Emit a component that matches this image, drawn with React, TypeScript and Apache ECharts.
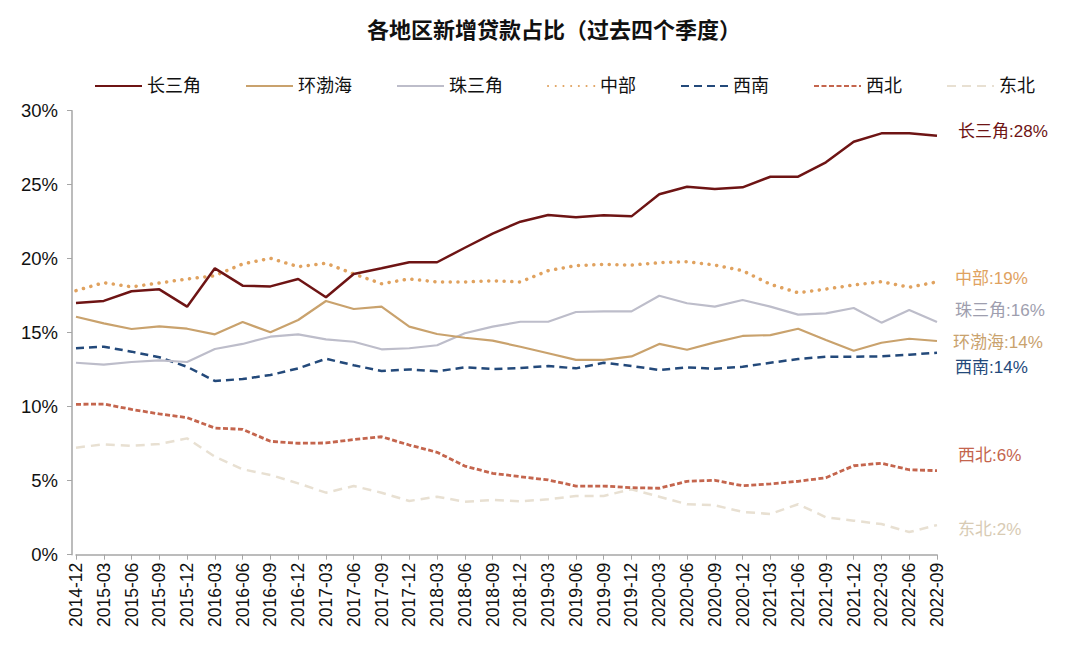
import React, { useEffect, useRef } from "react";
import * as echarts from "echarts";

const categories = [
  "2014-12", "2015-03", "2015-06", "2015-09", "2015-12", "2016-03", "2016-06", "2016-09",
  "2016-12", "2017-03", "2017-06", "2017-09", "2017-12", "2018-03", "2018-06", "2018-09",
  "2018-12", "2019-03", "2019-06", "2019-09", "2019-12", "2020-03", "2020-06", "2020-09",
  "2020-12", "2021-03", "2021-06", "2021-09", "2021-12", "2022-03", "2022-06", "2022-09",
];

const yrd = [17.0, 17.15, 17.8, 17.93, 16.76, 19.35, 18.18, 18.13, 18.63, 17.39, 18.97, 19.35, 19.76, 19.76, 20.74, 21.7,
  22.5, 22.95, 22.8, 22.93, 22.86, 24.35, 24.86, 24.71, 24.82, 25.54, 25.54, 26.51, 27.9, 28.47, 28.47, 28.31];
const bohai = [16.08, 15.63, 15.25, 15.43, 15.27, 14.89, 15.72, 15.03, 15.86, 17.14, 16.6, 16.76, 15.41, 14.91, 14.66, 14.46,
  14.05, 13.61, 13.16, 13.16, 13.4, 14.24, 13.85, 14.35, 14.78, 14.84, 15.27, 14.51, 13.78, 14.32, 14.59, 14.44];
const prd = [12.97, 12.84, 13.02, 13.13, 13.02, 13.9, 14.24, 14.73, 14.89, 14.55, 14.39, 13.88, 13.95, 14.15, 14.96, 15.41,
  15.74, 15.74, 16.4, 16.44, 16.44, 17.5, 16.99, 16.76, 17.21, 16.76, 16.22, 16.31, 16.67, 15.68, 16.53, 15.72];
const central = [17.84, 18.38, 18.1, 18.36, 18.63, 18.85, 19.64, 20.03, 19.46, 19.69, 18.97, 18.31, 18.63, 18.43, 18.43, 18.51,
  18.43, 19.19, 19.53, 19.62, 19.57, 19.73, 19.8, 19.57, 19.19, 18.27, 17.7, 17.95, 18.22, 18.45, 18.07, 18.43];
const southwest = [13.95, 14.05, 13.72, 13.34, 12.7, 11.74, 11.87, 12.14, 12.59, 13.24, 12.8, 12.41, 12.52, 12.39, 12.66, 12.55,
  12.61, 12.75, 12.59, 12.97, 12.75, 12.48, 12.66, 12.57, 12.7, 12.97, 13.22, 13.38, 13.38, 13.4, 13.51, 13.65];
const northwest = [10.16, 10.18, 9.82, 9.51, 9.26, 8.56, 8.47, 7.66, 7.53, 7.55, 7.78, 7.97, 7.41, 6.92, 5.99, 5.5,
  5.27, 5.05, 4.64, 4.64, 4.53, 4.49, 4.96, 5.03, 4.66, 4.78, 4.96, 5.2, 6.01, 6.18, 5.74, 5.68];
const northeast = [7.23, 7.46, 7.36, 7.48, 7.86, 6.62, 5.77, 5.39, 4.82, 4.19, 4.64, 4.19, 3.63, 3.92, 3.58, 3.7,
  3.61, 3.74, 3.97, 3.97, 4.42, 3.92, 3.41, 3.34, 2.89, 2.75, 3.41, 2.53, 2.3, 2.07, 1.53, 2.0];

const seriesNames = ["长三角", "环渤海", "珠三角", "中部", "西南", "西北", "东北"];
const endLabels = ["长三角:28%", "环渤海:14%", "珠三角:16%", "中部:19%", "西南:14%", "西北:6%", "东北:2%"];

const FONT = "'Liberation Sans', Arial, 'Noto Sans CJK SC', sans-serif";

export default function App() {
  const ref = useRef<HTMLDivElement>(null);
  useEffect(() => {
    document.body.style.margin = "0";
    if (!ref.current) return;
    const chart = echarts.init(ref.current, undefined, { renderer: "svg" });
    const data = [yrd, bohai, prd, central, southwest, northwest, northeast];
    const styles: any[] = [
      { color: "#6E1414", width: 2.5, type: "solid", labelColor: "#6E1414", offset: [13, -4] },
      { color: "#C9A26D", width: 2.2, type: "solid", labelColor: "#C9A26D", offset: [8, 2] },
      { color: "#BDBDCA", width: 2.2, type: "solid", labelColor: "#9E9EAE", offset: [10, -12] },
      { color: "#E0A25F", width: 3.5, type: [0.1, 7.6], cap: "round", labelColor: "#E0A25F", offset: [10, -3] },
      { color: "#23497A", width: 2.5, type: [8, 5], labelColor: "#23497A", offset: [10, 15] },
      { color: "#C4654D", width: 2.8, type: [5, 2.5], labelColor: "#C4654D", offset: [13, -15] },
      { color: "#E8E0D2", width: 2.5, type: [9, 6], labelColor: "#D8CBB4", offset: [13, 4] },
    ];
    const series = seriesNames.map((name, i) => ({
      name,
      type: "line",
      data: data[i],
      symbol: "none",
      z: 10 - i,
      lineStyle: {
        color: styles[i].color,
        width: styles[i].width,
        type: styles[i].type,
        cap: styles[i].cap || "butt",
      },
      itemStyle: { color: styles[i].color },
      endLabel: {
        show: true,
        formatter: endLabels[i],
        color: styles[i].labelColor,
        fontSize: 17,
        fontFamily: FONT,
        offset: styles[i].offset,
      },
    }));
    chart.setOption({
      animation: false,
      backgroundColor: "#fff",
      title: {
        text: "各地区新增贷款占比（过去四个季度）",
        left: 549,
        textAlign: "center",
        top: 14,
        textStyle: { fontSize: 22, fontWeight: "bold", color: "#111", fontFamily: FONT },
      },
      legend: {
        top: 72,
        left: 89,
        itemWidth: 47,
        itemHeight: 14,
        itemGap: 44,
        itemStyle: { opacity: 0 },
        textStyle: { fontSize: 18, color: "#111", fontFamily: FONT },
        data: seriesNames,
      },
      grid: { left: 76, right: 143, top: 110.7, bottom: 93.3, containLabel: false },
      xAxis: {
        type: "category",
        data: categories,
        boundaryGap: false,
        axisLine: { lineStyle: { color: "#A6A6A6", width: 1.5 } },
        axisTick: { show: true, length: 5, lineStyle: { color: "#A6A6A6" }, interval: 0 },
        axisLabel: {
          interval: 0,
          rotate: 90,
          fontSize: 17.5,
          color: "#111",
          fontFamily: FONT,
          margin: 8,
        },
      },
      yAxis: {
        type: "value",
        min: 0,
        max: 30,
        interval: 5,
        offset: 4,
        axisLine: { show: true, lineStyle: { color: "#A6A6A6", width: 1.5 } },
        axisTick: { show: true, length: 5, lineStyle: { color: "#A6A6A6" } },
        splitLine: { show: false },
        axisLabel: { formatter: "{value}%", fontSize: 18.5, color: "#111", fontFamily: FONT, margin: 14 },
      },
      series,
    });
    return () => chart.dispose();
  }, []);
  return <div ref={ref} style={{ width: 1080, height: 648 }} />;
}
